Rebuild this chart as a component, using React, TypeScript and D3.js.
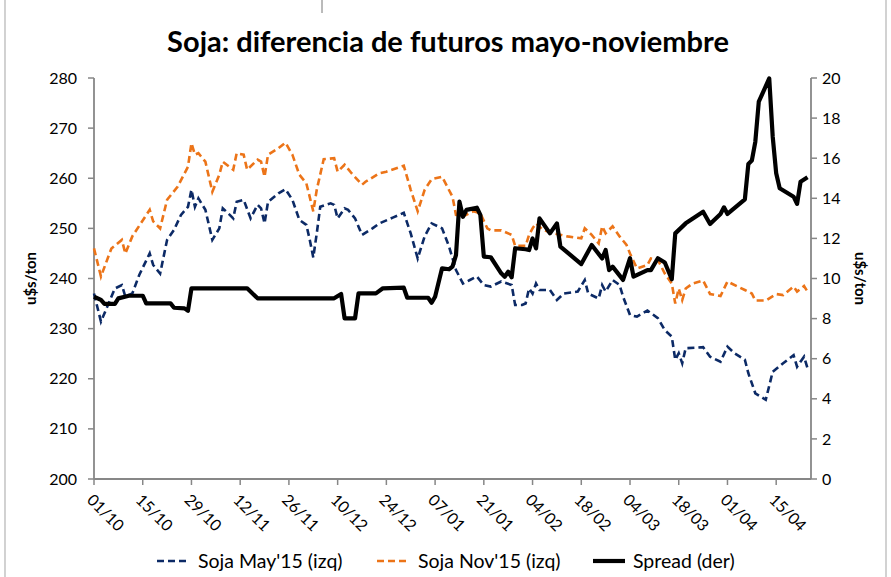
import React from 'react';
import * as d3 from 'd3';

// Soja May'15 (eje izquierdo)
const mayFechas = [
  '01/10', '03/10', '05/10', '07/10', '09/10', '10/10', '12/10', '14/10', '17/10', '18/10',
  '20/10', '22/10', '24/10', '26/10', '28/10', '29/10', '30/10', '31/10', '02/11', '04/11',
  '06/11', '07/11', '09/11', '10/11', '11/11', '13/11', '15/11', '17/11', '18/11', '19/11',
  '20/11', '23/11', '25/11', '27/11', '29/11', '01/12', '02/12', '03/12', '04/12', '05/12',
  '08/12', '09/12', '10/12', '12/12', '13/12', '15/12', '17/12', '20/12', '22/12', '26/12',
  '29/12', '31/12', '02/01', '04/01', '06/01', '09/01', '11/01', '13/01', '15/01', '17/01',
  '19/01', '21/01', '23/01', '26/01', '29/01', '30/01', '01/02', '02/02', '03/02', '04/02',
  '05/02', '06/02', '09/02', '11/02', '13/02', '17/02', '19/02', '20/02', '23/02', '24/02',
  '25/02', '27/02', '01/03', '02/03', '04/03', '06/03', '09/03', '12/03', '14/03', '16/03',
  '17/03', '18/03', '19/03', '20/03', '23/03', '25/03', '27/03', '30/03', '01/04', '03/04',
  '06/04', '07/04', '09/04', '12/04', '14/04', '17/04', '20/04', '21/04', '23/04', '24/04'
];
const mayValores = [
  237, 231.4, 234.7, 238, 238.7, 236.4, 237, 240.7, 245, 242.7,
  241, 247.7, 249.7, 252.7, 254.3, 257.7, 254.3, 256, 253.7, 247.7,
  250, 254, 252.7, 252, 255.3, 255.7, 252, 254.7, 254, 251,
  255.3, 257, 257.8, 255.7, 251.7, 250.7, 247.7, 244.2, 249, 254.3,
  255, 254.7, 252, 254, 253.7, 252, 248.7, 250, 251, 252.2,
  253.1, 249, 244, 248.4, 251, 250, 246.4, 241.7, 239, 239.7,
  240.4, 238.7, 238.4, 239.4, 238.7, 234.7, 234.7, 235, 238, 237,
  239, 237.7, 237.7, 235.7, 237, 237.4, 239.7, 237, 236, 238.7,
  237.4, 239.7, 238.7, 236.4, 232.7, 232.4, 233.6, 232.1, 229.7, 228.4,
  223.8, 225.1, 223.1, 226.1, 226.2, 226.3, 224.4, 223.4, 226.4, 225.1,
  223.8, 221.1, 217.1, 215.8, 221.4, 223.1, 224.7, 222.4, 224.4, 222.1
];

// Soja Nov'15 (eje izquierdo)
const novFechas = [
  '01/10', '03/10', '06/10', '09/10', '10/10', '12/10', '17/10', '18/10', '20/10', '22/10',
  '25/10', '28/10', '29/10', '30/10', '31/10', '02/11', '04/11', '06/11', '07/11', '10/11',
  '11/11', '13/11', '14/11', '17/11', '18/11', '19/11', '20/11', '23/11', '25/11', '27/11',
  '29/11', '01/12', '03/12', '04/12', '06/12', '09/12', '10/12', '12/12', '14/12', '17/12',
  '18/12', '22/12', '24/12', '29/12', '31/12', '02/01', '04/01', '06/01', '09/01', '12/01',
  '13/01', '15/01', '18/01', '20/01', '22/01', '23/01', '26/01', '29/01', '30/01', '02/02',
  '03/02', '04/02', '05/02', '07/02', '10/02', '14/02', '18/02', '19/02', '21/02', '23/02',
  '24/02', '25/02', '27/02', '01/03', '03/03', '04/03', '06/03', '09/03', '10/03', '12/03',
  '14/03', '16/03', '17/03', '18/03', '19/03', '20/03', '22/03', '25/03', '27/03', '30/03',
  '01/04', '06/04', '08/04', '09/04', '12/04', '15/04', '17/04', '20/04', '21/04', '23/04',
  '24/04'
];
const novValores = [
  246, 240.4, 246, 247.7, 245, 248.4, 253.7, 251.4, 250, 255.7,
  258.3, 262.3, 267, 264.7, 265, 263.3, 257.3, 260.7, 263.3, 261.7,
  265, 264.7, 261.7, 263.7, 263.3, 260.3, 264.7, 266, 267.1, 264.7,
  260.7, 259, 253.4, 257.7, 263.8, 264, 261.3, 262.7, 261, 258.7,
  259.3, 261, 261.3, 262.5, 257.7, 253.4, 257.7, 259.8, 260.3, 256.3,
  252.7, 252.4, 253.4, 253, 250, 249.6, 249.6, 248.7, 246.5, 246.5,
  248.7, 250, 251, 249.7, 249, 248.4, 248, 250, 248.7, 247,
  250.4, 249, 250.4, 248.4, 246.7, 245, 242, 242.7, 244, 243.7,
  241, 239, 235, 238, 235.7, 238, 239, 239.6, 236.9, 236.5,
  239.4, 237.7, 237, 235.6, 235.6, 236.9, 236.7, 238.4, 237.4, 238.5,
  237.4
];

// Spread (eje derecho)
const spreadFechas = [
  '01/10', '03/10', '04/10', '07/10', '08/10', '11/10', '15/10', '16/10', '23/10', '24/10',
  '27/10', '28/10', '29/10', '14/11', '17/11', '09/12', '11/12', '12/12', '15/12', '16/12',
  '21/12', '23/12', '29/12', '30/12', '05/01', '06/01', '07/01', '09/01', '11/01', '12/01',
  '13/01', '14/01', '15/01', '16/01', '19/01', '20/01', '21/01', '23/01', '26/01', '27/01',
  '28/01', '29/01', '30/01', '02/02', '03/02', '04/02', '05/02', '06/02', '09/02', '11/02',
  '12/02', '18/02', '21/02', '24/02', '25/02', '26/02', '27/02', '02/03', '04/03', '05/03',
  '07/03', '09/03', '10/03', '12/03', '14/03', '16/03', '17/03', '20/03', '25/03', '27/03',
  '30/03', '31/03', '01/04', '06/04', '07/04', '08/04', '09/04', '10/04', '13/04', '14/04',
  '15/04', '16/04', '20/04', '21/04', '22/04', '24/04'
];
const spreadValores = [
  9.09, 8.93, 8.73, 8.73, 9.01, 9.14, 9.14, 8.76, 8.76, 8.54,
  8.51, 8.39, 9.51, 9.51, 9.01, 9.01, 9.23, 8.01, 8.01, 9.26,
  9.26, 9.51, 9.54, 9.04, 9.04, 8.79, 9.09, 10.51, 10.46, 10.59,
  11.17, 13.83, 13.08, 13.42, 13.53, 13.17, 11.09, 11.06, 10.26, 10.09,
  10.34, 10.06, 11.51, 11.46, 11.42, 12.0, 11.5, 13.0, 12.25, 12.75,
  11.59, 10.72, 11.67, 11.0, 11.42, 10.42, 10.59, 9.93, 11.01, 10.09,
  10.26, 10.42, 10.42, 11.01, 10.8, 9.96, 12.25, 12.75, 13.33, 12.72,
  13.22, 13.55, 13.22, 13.95, 15.71, 15.88, 16.82, 18.82, 19.98, 17.07,
  15.25, 14.5, 14.08, 13.72, 14.83, 15.05
];

const xTickLabels = [
  '01/10', '15/10', '29/10', '12/11', '26/11', '10/12', '24/12', '07/01',
  '21/01', '04/02', '18/02', '04/03', '18/03', '01/04', '15/04'
];
const leftTicks = [200, 210, 220, 230, 240, 250, 260, 270, 280];
const rightTicks = [0, 2, 4, 6, 8, 10, 12, 14, 16, 18, 20];

const parseFecha = (s: string) => {
  const [d, m] = s.split('/').map(Number);
  return new Date(m >= 10 ? 2014 : 2015, m - 1, d);
};

const W = 891;
const H = 577;
const left = 94;
const right = 811;
const top = 78;
const bottom = 479;
const FONT = 'Lato, "Open Sans", sans-serif';
const AXIS = '#878787';
const BLUE = '#0c2a66';
const ORANGE = '#ec7418';

export default function App() {
  const x = d3.scaleTime()
    .domain([parseFecha('01/10'), parseFecha('25/04')])
    .range([left, right]);
  const yL = d3.scaleLinear().domain([200, 280]).range([bottom, top]);
  const yR = d3.scaleLinear().domain([0, 20]).range([bottom, top]);

  const serie = (fechas: string[], valores: number[]) =>
    fechas.map((f, i) => [parseFecha(f), valores[i]] as [Date, number]);

  const lineL = d3.line<[Date, number]>().x(d => x(d[0])).y(d => yL(d[1]));
  const lineR = d3.line<[Date, number]>().x(d => x(d[0])).y(d => yR(d[1]));

  const legendY = 561;

  return (
    <svg width={W} height={H} style={{ position: 'absolute', left: 0, top: 0 }} fontFamily={FONT}>
      <rect x={0} y={0} width={W} height={H} fill="#fff" />
      <rect x={5} y={-2} width={881} height={H + 4} fill="none" stroke="#b4b4b4" strokeWidth={1.2} />
      <line x1={322} x2={322} y1={0} y2={13} stroke="#777" strokeWidth={1} />

      <text x={448} y={52} textAnchor="middle" fontSize={29} fontWeight={700} fill="#000">
        Soja: diferencia de futuros mayo-noviembre
      </text>

      {/* ejes */}
      <line x1={left} x2={left} y1={top} y2={bottom} stroke={AXIS} strokeWidth={1.8} />
      <line x1={right} x2={right} y1={top} y2={bottom} stroke={AXIS} strokeWidth={1.8} />
      <line x1={left} x2={right} y1={bottom} y2={bottom} stroke={AXIS} strokeWidth={1.8} />

      {leftTicks.map(t => (
        <g key={'l' + t}>
          <line x1={left - 6} x2={left} y1={yL(t)} y2={yL(t)} stroke={AXIS} strokeWidth={1.5} />
          <text x={77} y={yL(t)} dy="0.35em" textAnchor="end" fontSize={16} fill="#000">{t}</text>
        </g>
      ))}
      {rightTicks.map(t => (
        <g key={'r' + t}>
          <line x1={right} x2={right + 6} y1={yR(t)} y2={yR(t)} stroke={AXIS} strokeWidth={1.5} />
          <text x={822} y={yR(t)} dy="0.35em" textAnchor="start" fontSize={16} fill="#000">{t}</text>
        </g>
      ))}
      {xTickLabels.map(t => {
        const tx = x(parseFecha(t));
        return (
          <g key={'x' + t}>
            <line x1={tx} x2={tx} y1={bottom} y2={bottom + 6} stroke={AXIS} strokeWidth={1.5} />
            <text transform={`translate(${tx - 8},${501}) rotate(45)`} fontSize={16} fill="#000">{t}</text>
          </g>
        );
      })}

      <text transform={`translate(36,${(top + bottom) / 2}) rotate(-90)`} textAnchor="middle"
        fontSize={15} fontWeight={700} fill="#000">u$s/ton</text>
      <text transform={`translate(855,${(top + bottom) / 2}) rotate(90)`} textAnchor="middle"
        fontSize={15} fontWeight={700} fill="#000">u$s/ton</text>

      {/* series */}
      <path d={lineL(serie(mayFechas, mayValores)) || ''} fill="none" stroke={BLUE}
        strokeWidth={2.6} strokeDasharray="7,4" />
      <path d={lineL(serie(novFechas, novValores)) || ''} fill="none" stroke={ORANGE}
        strokeWidth={2.6} strokeDasharray="7,4" />
      <path d={lineR(serie(spreadFechas, spreadValores)) || ''} fill="none" stroke="#000"
        strokeWidth={4.2} strokeLinejoin="round" />

      {/* leyenda */}
      <line x1={157} x2={190} y1={legendY} y2={legendY} stroke={BLUE} strokeWidth={2.6} strokeDasharray="7,4" />
      <text x={198} y={568} fontSize={19.5} fill="#000">Soja May'15 (izq)</text>
      <line x1={377} x2={410} y1={legendY} y2={legendY} stroke={ORANGE} strokeWidth={2.6} strokeDasharray="7,4" />
      <text x={418} y={568} fontSize={19.5} fill="#000">Soja Nov'15 (izq)</text>
      <line x1={593} x2={625} y1={legendY} y2={legendY} stroke="#000" strokeWidth={4.2} />
      <text x={633} y={568} fontSize={19.5} fill="#000">Spread (der)</text>
    </svg>
  );
}
